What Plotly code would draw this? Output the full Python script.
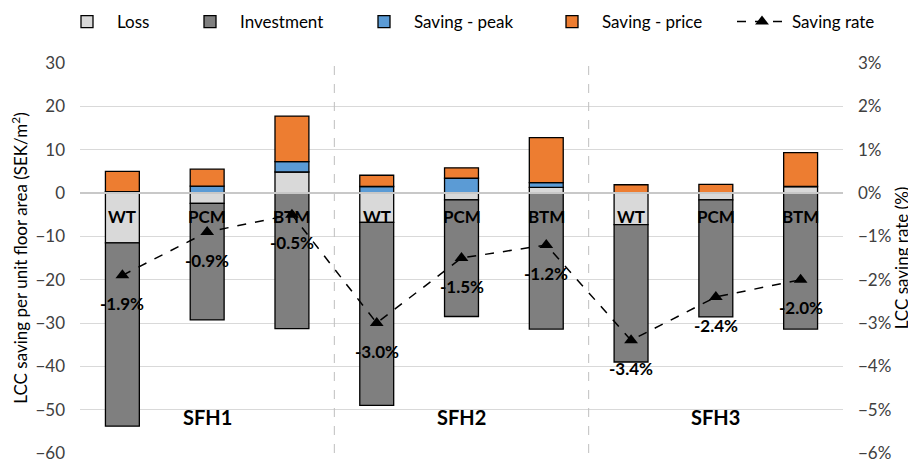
import plotly.graph_objects as go

groups = ["SFH1", "SFH2", "SFH3"]
techs = ["WT", "PCM", "BTM"]
categories = [f"{g} {t}" for g in groups for t in techs]

loss = [-11.5, -2.4, 4.85, -6.8, -1.6, 1.3, -7.3, -1.6, 1.5]
investment = [-42.3, -26.9, -31.3, -42.2, -26.9, -31.4, -31.7, -27.0, -31.4]
saving_peak = [0.3, 1.6, 2.4, 1.5, 3.4, 1.1, 0.0, 0.0, 0.0]
saving_price = [4.7, 3.9, 10.5, 2.6, 2.4, 10.4, 1.9, 2.0, 7.8]
saving_rate = [-1.9, -0.9, -0.5, -3.0, -1.5, -1.2, -3.4, -2.4, -2.0]  # percent

FONT = "Lato"
W, H = 908, 451
line_style = dict(color="#000000", width=1.3)

# text start of each legend entry (px from left of figure)
legend_text_x = [111, 234, 408, 596, 786]
ITEMW = 50

fig = go.Figure()
series = [
    ("Loss", loss, "#D9D9D9"),
    ("Investment", investment, "#7F7F7F"),
    ("Saving - peak", saving_peak, "#5B9BD5"),
    ("Saving - price", saving_price, "#ED7D31"),
]
for i, (name, vals, col) in enumerate(series):
    fig.add_trace(go.Bar(x=categories, y=vals, name=name,
                         legend="legend" if i == 0 else f"legend{i + 1}",
                         marker=dict(color=col, line=line_style)))

fig.add_trace(go.Scatter(
    x=categories, y=[r / 100 for r in saving_rate], name="Saving rate", yaxis="y2",
    legend="legend5",
    mode="lines+markers",
    line=dict(color="#000000", width=1.5, dash="dash"),
    marker=dict(symbol="triangle-up", size=12, color="#000000"),
))

annotations = []
for c, t in zip(categories, [t for g in groups for t in techs]):
    annotations.append(dict(x=c, y=-5.5, xref="x", yref="y", text=f"<b>{t}</b>",
                            showarrow=False, font=dict(family=FONT, size=17, color="#000000")))
for c, r in zip(categories, saving_rate):
    annotations.append(dict(x=c, y=r / 100, xref="x", yref="y2", text=f"<b>{r:.1f}%</b>",
                            showarrow=False, yshift=-28,
                            font=dict(family=FONT, size=17, color="#000000")))
for i, g in enumerate(groups):
    annotations.append(dict(x=categories[i * 3 + 1], y=-51.7, xref="x", yref="y",
                            text=f"<b>{g}</b>", showarrow=False,
                            font=dict(family=FONT, size=20, color="#000000")))

shapes = []
for k in range(1, len(groups)):
    xpos = k * len(techs) - 0.5
    shapes.append(dict(type="line", xref="x", yref="paper", x0=xpos, x1=xpos, y0=0, y1=1,
                       line=dict(color="#BFBFBF", width=1, dash="dash")))
# horizontal category axis line at zero, drawn over the bars (as in the reference)
shapes.append(dict(type="line", xref="paper", yref="y", x0=0, x1=1, y0=0, y1=0,
                   layer="above", line=dict(color="#C8C8C8", width=2)))

legends = {}
for i, tx in enumerate(legend_text_x):
    key = "legend" if i == 0 else f"legend{i + 1}"
    legends[key] = dict(orientation="h", x=(tx - ITEMW - 12) / W, xanchor="left",
                        xref="container", y=1 - 14 / H, yanchor="middle", yref="container",
                        itemwidth=ITEMW, bgcolor="rgba(0,0,0,0)",
                        font=dict(family=FONT, size=17, color="#000000"))

fig.update_layout(
    width=W, height=H,
    margin=dict(l=72, r=73, t=55, b=6, autoexpand=False),
    barmode="relative", bargap=0.6,
    plot_bgcolor="#FFFFFF", paper_bgcolor="#FFFFFF",
    font=dict(family=FONT, size=16, color="#404040"),
    showlegend=True,
    xaxis=dict(showticklabels=False, showgrid=False, ticks="", showline=False,
               zeroline=False, range=[-0.5, 8.5]),
    yaxis=dict(range=[-60, 30], dtick=10, showgrid=True, gridcolor="#D9D9D9", gridwidth=1,
               zeroline=False, ticklabelstandoff=14, ticklabeloverflow="allow",
               title=dict(text="LCC saving per unit floor area (SEK/m<sup>2</sup>)",
                          font=dict(family=FONT, size=17, color="#000000"), standoff=8),
               tickfont=dict(family=FONT, size=17, color="#404040"), ticks=""),
    yaxis2=dict(range=[-0.06, 0.03], dtick=0.01, tickformat=".0%", overlaying="y",
                side="right", showgrid=False, zeroline=False, ticklabelstandoff=14,
                ticklabeloverflow="allow",
                title=dict(text="LCC saving rate (%)",
                           font=dict(family=FONT, size=17, color="#000000"), standoff=3),
                tickfont=dict(family=FONT, size=17, color="#404040"), ticks=""),
    annotations=annotations,
    shapes=shapes,
    **legends,
)

fig.write_html("out.html")
